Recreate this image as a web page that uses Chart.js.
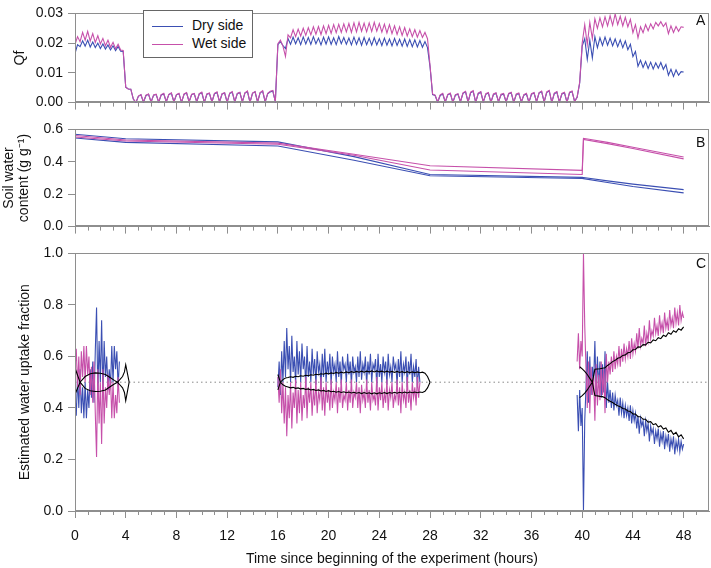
<!DOCTYPE html>
<html>
<head>
<meta charset="utf-8">
<script src="https://cdn.jsdelivr.net/npm/chart.js@4.4.1/dist/chart.umd.min.js"></script>
<style>
  body { margin: 0; background: #fff; font-family: "Liberation Sans", Arial, sans-serif; }
  #wrap { position: relative; width: 711px; height: 568px; overflow: hidden; }
  .box { position: absolute; left: 0; width: 711px; }
  .tag { position: absolute; font-size: 14px; color: #111; line-height: 14px; }
  #legend { position: absolute; left: 143px; top: 10px; width: 108px; height: 46px;
            border: 1px solid #666; background: #fff; font-size: 14px; color: #111; }
  #legend div { position: absolute; left: 8px; height: 16px; line-height: 16px; }
  #legend span { display: inline-block; width: 31px; height: 0; vertical-align: middle; margin-right: 9px; }
</style>
</head>
<body>
<div id="wrap">
  <div class="box" style="top:0;height:116px"><canvas id="chartA"></canvas></div>
  <div class="box" style="top:116px;height:124px"><canvas id="chartB"></canvas></div>
  <div class="box" style="top:240px;height:328px"><canvas id="chartC"></canvas></div>
  <div id="legend">
    <div style="top:6px"><span style="border-top:1.5px solid #3b4fb3"></span>Dry side</div>
    <div style="top:24px"><span style="border-top:1.5px solid #c650aa"></span>Wet side</div>
  </div>
  <div class="tag" style="left:696px;top:13px">A</div>
  <div class="tag" style="left:696px;top:135px">B</div>
  <div class="tag" style="left:696px;top:256px">C</div>
</div>
<script>
var blue = '#3b4fb3';
var magenta = '#c650aa';
var axisGrey = '#8e8e8e';

// ---- Panel A: Qf, sampled every 0.2 h ----
var qfDryStart = [0.0165, 0.0195, 0.0188, 0.0208, 0.0190, 0.0210, 0.0187, 0.0204, 0.0185, 0.0200,
  0.0182, 0.0197, 0.0180, 0.0194, 0.0177, 0.0191, 0.0175, 0.0189, 0.0173, 0.0172,
  0.0052, 0.0046, 0.0045, 0.0012, 0.0000];
var qfWetStart = [0.0195, 0.0222, 0.0205, 0.0236, 0.0210, 0.0240, 0.0207, 0.0232, 0.0202, 0.0225,
  0.0197, 0.0216, 0.0191, 0.0210, 0.0186, 0.0203, 0.0181, 0.0196, 0.0177, 0.0175,
  0.0052, 0.0046, 0.0045, 0.0012, 0.0000];
var qfDryNight1 = [0.0021, 0.0026, 0.0001, 0.0024, 0.0028, 0.0002, 0.0025, 0.0027, 0.0001,
  0.0026, 0.0029, 0.0003, 0.0027, 0.0031, 0.0002, 0.0026, 0.0030, 0.0001, 0.0028, 0.0032, 0.0003,
  0.0027, 0.0030, 0.0002, 0.0029, 0.0033, 0.0001, 0.0028, 0.0031, 0.0002, 0.0030, 0.0034, 0.0003,
  0.0029, 0.0032, 0.0001, 0.0031, 0.0035, 0.0002, 0.0030, 0.0034, 0.0003, 0.0032, 0.0037, 0.0001,
  0.0031, 0.0036, 0.0002, 0.0033, 0.0038, 0.0002, 0.0030, 0.0036, 0.0039, 0.0003];
var qfWetNight1 = [0.0022, 0.0027, 0.0002, 0.0025, 0.0029, 0.0001, 0.0026, 0.0028, 0.0002,
  0.0027, 0.0031, 0.0002, 0.0028, 0.0033, 0.0003, 0.0027, 0.0031, 0.0001, 0.0029, 0.0034, 0.0002,
  0.0028, 0.0031, 0.0003, 0.0030, 0.0035, 0.0001, 0.0029, 0.0032, 0.0002, 0.0031, 0.0036, 0.0002,
  0.0030, 0.0033, 0.0001, 0.0032, 0.0037, 0.0003, 0.0031, 0.0035, 0.0002, 0.0033, 0.0039, 0.0001,
  0.0032, 0.0037, 0.0002, 0.0034, 0.0040, 0.0003, 0.0031, 0.0038, 0.0041, 0.0002];
var qfDryDay = [0.0195, 0.0205, 0.0192, 0.0182,
  0.0215, 0.0196, 0.0220, 0.0198, 0.0218, 0.0195, 0.0221, 0.0197, 0.0219, 0.0196,
  0.0222, 0.0198, 0.0217, 0.0194, 0.0220, 0.0197, 0.0221, 0.0196, 0.0218, 0.0195,
  0.0222, 0.0198, 0.0219, 0.0196, 0.0217, 0.0194, 0.0220, 0.0196, 0.0218, 0.0193,
  0.0219, 0.0195, 0.0216, 0.0193, 0.0218, 0.0194, 0.0215, 0.0192, 0.0217, 0.0193,
  0.0214, 0.0191, 0.0216, 0.0192, 0.0213, 0.0190, 0.0214, 0.0189, 0.0212, 0.0188,
  0.0211, 0.0187, 0.0209, 0.0186, 0.0205, 0.0185];
var qfWetDay = [0.0198, 0.0210, 0.0190, 0.0155,
  0.0228, 0.0218, 0.0245, 0.0222, 0.0247, 0.0224, 0.0250, 0.0226, 0.0252, 0.0228,
  0.0255, 0.0230, 0.0256, 0.0229, 0.0258, 0.0232, 0.0260, 0.0233, 0.0262, 0.0235,
  0.0263, 0.0236, 0.0265, 0.0238, 0.0266, 0.0236, 0.0268, 0.0238, 0.0270, 0.0240,
  0.0267, 0.0238, 0.0268, 0.0239, 0.0270, 0.0240, 0.0266, 0.0237, 0.0264, 0.0234,
  0.0262, 0.0232, 0.0258, 0.0229, 0.0255, 0.0226, 0.0252, 0.0224, 0.0248, 0.0222,
  0.0245, 0.0220, 0.0242, 0.0219, 0.0236, 0.0215];
var qfDryNight2 = [0.0120, 0.0027, 0.0024, 0.0001,
  0.0024, 0.0029, 0.0002, 0.0026, 0.0030, 0.0001, 0.0025, 0.0028, 0.0003, 0.0031, 0.0036, 0.0002,
  0.0033, 0.0038, 0.0001, 0.0030, 0.0035, 0.0002, 0.0028, 0.0032, 0.0001, 0.0027, 0.0031, 0.0003,
  0.0026, 0.0029, 0.0002, 0.0029, 0.0033, 0.0001, 0.0027, 0.0030, 0.0002, 0.0025, 0.0029, 0.0001,
  0.0028, 0.0032, 0.0003, 0.0032, 0.0037, 0.0002, 0.0034, 0.0039, 0.0001, 0.0030, 0.0035, 0.0002,
  0.0029, 0.0033, 0.0001, 0.0033, 0.0037, 0.0004, 0.0018, 0.0065];
var qfWetNight2 = [0.0125, 0.0029, 0.0025, 0.0002,
  0.0026, 0.0031, 0.0002, 0.0028, 0.0032, 0.0001, 0.0027, 0.0030, 0.0003, 0.0033, 0.0038, 0.0002,
  0.0035, 0.0040, 0.0001, 0.0032, 0.0037, 0.0002, 0.0030, 0.0034, 0.0001, 0.0029, 0.0033, 0.0003,
  0.0028, 0.0031, 0.0002, 0.0031, 0.0035, 0.0001, 0.0029, 0.0032, 0.0002, 0.0027, 0.0031, 0.0001,
  0.0030, 0.0034, 0.0003, 0.0034, 0.0039, 0.0002, 0.0036, 0.0041, 0.0001, 0.0032, 0.0037, 0.0002,
  0.0031, 0.0035, 0.0001, 0.0035, 0.0039, 0.0003, 0.0019, 0.0068];
var qfDryLast = [0.0190, 0.0215, 0.0145, 0.0210, 0.0150, 0.0222, 0.0185, 0.0218, 0.0192, 0.0220,
  0.0193, 0.0217, 0.0191, 0.0214, 0.0188, 0.0211, 0.0185, 0.0207, 0.0178, 0.0196,
  0.0155, 0.0172, 0.0122, 0.0142, 0.0118, 0.0138, 0.0115, 0.0136, 0.0113, 0.0134,
  0.0116, 0.0135, 0.0112, 0.0128, 0.0092, 0.0112, 0.0088, 0.0110, 0.0092, 0.0104, 0.0103];
var qfWetLast = [0.0200, 0.0262, 0.0195, 0.0270, 0.0215, 0.0282, 0.0250, 0.0285, 0.0255, 0.0288,
  0.0258, 0.0292, 0.0260, 0.0298, 0.0262, 0.0290, 0.0258, 0.0287, 0.0255, 0.0280,
  0.0235, 0.0262, 0.0218, 0.0255, 0.0235, 0.0262, 0.0242, 0.0265, 0.0248, 0.0270,
  0.0258, 0.0272, 0.0256, 0.0268, 0.0232, 0.0258, 0.0236, 0.0256, 0.0240, 0.0255, 0.0253];

// ---- Panel B: soil water content, two probes per side ----
var swcHours = [0, 4, 16, 22, 28, 40, 40.1, 42, 44, 48];
var swcDry1 = [0.570, 0.542, 0.523, 0.432, 0.322, 0.304, 0.303, 0.282, 0.262, 0.228];
var swcDry2 = [0.547, 0.520, 0.498, 0.410, 0.314, 0.297, 0.296, 0.272, 0.248, 0.208];
var swcWet1 = [0.562, 0.535, 0.515, 0.447, 0.376, 0.347, 0.545, 0.520, 0.490, 0.430];
var swcWet2 = [0.553, 0.528, 0.508, 0.440, 0.349, 0.322, 0.538, 0.512, 0.482, 0.418];

// ---- Panel C: uptake fraction, sampled every 0.1 h ----
var upDry1 = [0.45, 0.37, 0.52, 0.40, 0.55, 0.38, 0.48, 0.36, 0.50, 0.36, 0.47, 0.40, 0.55, 0.44, 0.58, 0.42,
  0.62, 0.79, 0.45, 0.66, 0.50, 0.74, 0.45, 0.66, 0.52, 0.60, 0.47, 0.55, 0.48, 0.64, 0.50, 0.64, 0.55, 0.62, 0.48, 0.58];
var upWet1 = [0.55, 0.63, 0.48, 0.60, 0.45, 0.62, 0.52, 0.64, 0.50, 0.64, 0.53, 0.60, 0.45, 0.56, 0.42, 0.58,
  0.38, 0.21, 0.55, 0.34, 0.50, 0.26, 0.55, 0.34, 0.48, 0.40, 0.53, 0.45, 0.52, 0.36, 0.50, 0.36, 0.45, 0.38, 0.52, 0.42];
var upDry2 = [0.48, 0.58, 0.45, 0.62, 0.50, 0.66, 0.52, 0.71, 0.55, 0.64,
  0.50, 0.68, 0.54, 0.60, 0.49, 0.66, 0.53, 0.62, 0.50, 0.65,
  0.55, 0.60, 0.48, 0.64, 0.52, 0.58, 0.50, 0.63, 0.53, 0.59,
  0.49, 0.62, 0.54, 0.57, 0.48, 0.61, 0.52, 0.63, 0.50, 0.58,
  0.53, 0.61, 0.49, 0.60, 0.54, 0.57, 0.50, 0.62, 0.52, 0.58,
  0.49, 0.60, 0.55, 0.57, 0.50, 0.61, 0.53, 0.58, 0.49, 0.60,
  0.54, 0.56, 0.50, 0.60, 0.52, 0.62, 0.51, 0.57, 0.54, 0.60,
  0.49, 0.58, 0.53, 0.61, 0.50, 0.57, 0.55, 0.59, 0.48, 0.61,
  0.52, 0.57, 0.50, 0.60, 0.54, 0.58, 0.49, 0.61, 0.53, 0.56,
  0.50, 0.60, 0.55, 0.57, 0.49, 0.59, 0.52, 0.62, 0.50, 0.57,
  0.54, 0.60, 0.48, 0.58, 0.53, 0.61, 0.50, 0.56, 0.52, 0.59,
  0.48, 0.56, 0.50];
var upWet2 = [0.52, 0.42, 0.55, 0.38, 0.50, 0.34, 0.48, 0.29, 0.45, 0.36,
  0.50, 0.32, 0.46, 0.40, 0.51, 0.34, 0.47, 0.38, 0.50, 0.35,
  0.45, 0.40, 0.52, 0.36, 0.48, 0.42, 0.50, 0.37, 0.47, 0.41,
  0.51, 0.38, 0.46, 0.43, 0.52, 0.39, 0.48, 0.37, 0.50, 0.42,
  0.47, 0.39, 0.51, 0.40, 0.46, 0.43, 0.50, 0.38, 0.48, 0.42,
  0.51, 0.40, 0.45, 0.43, 0.50, 0.39, 0.47, 0.42, 0.51, 0.40,
  0.46, 0.44, 0.50, 0.40, 0.48, 0.38, 0.49, 0.43, 0.46, 0.40,
  0.51, 0.42, 0.47, 0.39, 0.50, 0.43, 0.45, 0.41, 0.52, 0.39,
  0.48, 0.43, 0.50, 0.40, 0.46, 0.42, 0.51, 0.39, 0.47, 0.44,
  0.50, 0.40, 0.45, 0.43, 0.51, 0.41, 0.48, 0.38, 0.50, 0.43,
  0.46, 0.40, 0.52, 0.42, 0.47, 0.39, 0.50, 0.44, 0.48, 0.41,
  0.52, 0.44, 0.50];
var upDry3 = [0.45, 0.31, 0.47, 0.33,
  0.40, 0.00, 0.35, 0.48, 0.62, 0.42, 0.60, 0.45, 0.56, 0.50,
  0.66, 0.45, 0.60, 0.48, 0.58, 0.44, 0.57, 0.46, 0.62, 0.40,
  0.50, 0.42, 0.47, 0.40, 0.46, 0.39, 0.45, 0.41, 0.43, 0.37,
  0.44, 0.38, 0.42, 0.36, 0.41, 0.37, 0.40, 0.35, 0.41, 0.34,
  0.39, 0.35, 0.38, 0.32, 0.37, 0.30, 0.36, 0.33, 0.35, 0.29,
  0.35, 0.31, 0.34, 0.27, 0.33, 0.30, 0.32, 0.26, 0.31, 0.28,
  0.32, 0.25, 0.30, 0.27, 0.31, 0.24, 0.29, 0.26, 0.30, 0.23,
  0.28, 0.25, 0.29, 0.22, 0.27, 0.24, 0.28, 0.23, 0.27, 0.24, 0.26];
var upWet3 = [0.58, 0.69, 0.55, 0.66,
  0.60, 1.00, 0.72, 0.55, 0.40, 0.58, 0.38, 0.56, 0.45, 0.52,
  0.35, 0.57, 0.41, 0.53, 0.43, 0.58, 0.45, 0.55, 0.38, 0.61,
  0.50, 0.58, 0.53, 0.60, 0.54, 0.62, 0.55, 0.60, 0.57, 0.64,
  0.56, 0.63, 0.58, 0.65, 0.59, 0.63, 0.60, 0.66, 0.59, 0.67,
  0.61, 0.65, 0.62, 0.69, 0.63, 0.71, 0.64, 0.67, 0.65, 0.72,
  0.64, 0.69, 0.66, 0.74, 0.67, 0.70, 0.68, 0.75, 0.69, 0.72,
  0.68, 0.76, 0.70, 0.73, 0.69, 0.77, 0.71, 0.74, 0.70, 0.78,
  0.72, 0.75, 0.71, 0.79, 0.73, 0.77, 0.72, 0.80, 0.74, 0.77, 0.75];

// smoothed fractions (black lines)
var smoothHours1 = [0, 0.4, 0.8, 1.2, 1.6, 2.0, 2.4, 2.8, 3.1, 3.35, 3.5, 3.75, 3.9, 4.0, 4.27];
var smoothDry1 = [0.453, 0.500, 0.522, 0.533, 0.536, 0.535, 0.530, 0.517, 0.507, 0.500, 0.492, 0.478, 0.460, 0.428, 0.500];
var smoothWet1 = [0.555, 0.500, 0.476, 0.467, 0.464, 0.465, 0.470, 0.483, 0.493, 0.500, 0.508, 0.522, 0.540, 0.568, 0.500];
var smoothDry2 = [0.470, 0.500, 0.510, 0.516, 0.518, 0.521, 0.519, 0.523, 0.521, 0.525,
  0.523, 0.527, 0.525, 0.529, 0.527, 0.531, 0.529, 0.533, 0.531, 0.535,
  0.532, 0.536, 0.534, 0.538, 0.535, 0.539, 0.536, 0.540, 0.537, 0.541,
  0.538, 0.542, 0.539, 0.543, 0.539, 0.543, 0.540, 0.544, 0.540, 0.544,
  0.540, 0.543, 0.539, 0.543, 0.539, 0.542, 0.538, 0.542, 0.538, 0.541,
  0.537, 0.541, 0.537, 0.540, 0.537, 0.540, 0.537, 0.539, 0.535, 0.522, 0.500];
var smoothWet2 = [0.530, 0.500, 0.490, 0.484, 0.481, 0.478, 0.480, 0.476, 0.478, 0.474,
  0.476, 0.472, 0.474, 0.470, 0.472, 0.468, 0.470, 0.466, 0.468, 0.464,
  0.467, 0.463, 0.465, 0.461, 0.464, 0.460, 0.463, 0.459, 0.462, 0.458,
  0.461, 0.457, 0.460, 0.456, 0.460, 0.456, 0.459, 0.455, 0.459, 0.455,
  0.459, 0.456, 0.460, 0.456, 0.460, 0.457, 0.461, 0.457, 0.461, 0.458,
  0.462, 0.458, 0.462, 0.459, 0.462, 0.459, 0.462, 0.460, 0.465, 0.478, 0.500];
var smoothDry3 = [0.560, 0.552, 0.542, 0.530, 0.515, 0.500, 0.448, 0.447, 0.445, 0.444, 0.440,
  0.432, 0.426, 0.421, 0.414, 0.409, 0.405, 0.398, 0.396, 0.388, 0.386,
  0.377, 0.376, 0.366, 0.366, 0.356, 0.356, 0.345, 0.347, 0.335, 0.339,
  0.326, 0.331, 0.318, 0.322, 0.306, 0.313, 0.297, 0.305, 0.288, 0.296, 0.280];
var smoothWet3 = [0.440, 0.448, 0.458, 0.470, 0.485, 0.500, 0.550, 0.551, 0.552, 0.554, 0.556,
  0.565, 0.572, 0.580, 0.585, 0.593, 0.596, 0.604, 0.606, 0.614, 0.616,
  0.626, 0.627, 0.637, 0.636, 0.646, 0.645, 0.655, 0.653, 0.664, 0.661,
  0.673, 0.669, 0.682, 0.677, 0.692, 0.686, 0.700, 0.694, 0.708, 0.702, 0.715];

var xTickHours = [0, 4, 8, 12, 16, 20, 24, 28, 32, 36, 40, 44, 48];

// helpers
function run(start, step, values) {
  return values.map(function (v, i) { return { x: +(start + i * step).toFixed(3), y: v }; });
}
function pairs(hours, values) {
  return hours.map(function (h, i) { return { x: h, y: values[i] }; });
}
function gap(h) { return [{ x: h, y: null }]; }

function line(label, data, color, order, extra) {
  var ds = { label: label, data: data, borderColor: color, backgroundColor: color,
    borderWidth: 1.1, pointRadius: 0, tension: 0, order: order, fill: false };
  for (var k in extra) ds[k] = extra[k];
  return ds;
}

var tickFont = { family: '"Liberation Sans", Arial, sans-serif', size: 14 };

var framePlugin = {
  id: 'frame',
  afterDraw: function (chart) {
    var a = chart.chartArea, ctx = chart.ctx, xs = chart.scales.x;
    ctx.save();
    ctx.strokeStyle = axisGrey;
    ctx.lineWidth = 1;
    ctx.strokeRect(Math.round(a.left) + 0.5, Math.round(a.top) + 0.5,
      Math.round(a.right - a.left) - 1, Math.round(a.bottom - a.top) - 1);
    // minor hour ticks
    for (var h = 1; h < 50; h++) {
      if (h % 4 === 0) continue;
      var px = Math.round(xs.getPixelForValue(h)) + 0.5;
      ctx.beginPath();
      ctx.moveTo(px, a.bottom);
      ctx.lineTo(px, a.bottom + 4);
      ctx.stroke();
    }
    ctx.restore();
  }
};

function xAxis(showLabels, height) {
  return {
    type: 'linear', min: 0, max: 50,
    afterBuildTicks: function (s) { s.ticks = xTickHours.map(function (v) { return { value: v }; }); },
    afterFit: function (s) { s.height = height; },
    grid: { drawOnChartArea: false, drawTicks: true, tickLength: 7, color: axisGrey },
    border: { display: true, color: axisGrey },
    ticks: { display: showLabels, font: tickFont, color: '#111', padding: 10, maxRotation: 0 },
    title: { display: showLabels, text: 'Time since beginning of the experiment (hours)',
      font: tickFont, color: '#111', padding: { top: 4, bottom: 0 } }
  };
}

function yAxis(max, step, digits, title, titlePad, titleFont) {
  return {
    min: 0, max: max,
    afterFit: function (s) { s.width = 75; },
    grid: { drawOnChartArea: false, drawTicks: true, tickLength: 7, color: axisGrey },
    border: { display: true, color: axisGrey },
    ticks: { stepSize: step, font: tickFont, color: '#111', padding: 5,
      callback: function (v) { return v.toFixed(digits); } },
    title: { display: true, text: title, font: titleFont || tickFont, color: '#111',
      padding: { top: titlePad, bottom: 0 } }
  };
}

function baseOptions(padTop, xOpts, yOpts) {
  return {
    responsive: true, maintainAspectRatio: false, animation: false, events: [],
    layout: { padding: { top: padTop, right: 2, left: 0, bottom: 0 } },
    plugins: { legend: { display: false }, tooltip: { enabled: false } },
    scales: { x: xOpts, y: yOpts }
  };
}

// Panel A
new Chart(document.getElementById('chartA'), {
  type: 'line',
  data: { datasets: [
    line('Wet side', [].concat(run(0, 0.2, qfWetStart), run(5, 0.2, qfWetNight1), run(16, 0.2, qfWetDay),
      run(28, 0.2, qfWetNight2), run(40, 0.2, qfWetLast)), magenta, 1),
    line('Dry side', [].concat(run(0, 0.2, qfDryStart), run(5, 0.2, qfDryNight1), run(16, 0.2, qfDryDay),
      run(28, 0.2, qfDryNight2), run(40, 0.2, qfDryLast)), blue, 2)
  ] },
  options: baseOptions(6, xAxis(false, 9), yAxis(0.03, 0.01, 2, 'Qf', 12)),
  plugins: [framePlugin]
});

// Panel B
new Chart(document.getElementById('chartB'), {
  type: 'line',
  data: { datasets: [
    line('Wet 1', pairs(swcHours, swcWet1), magenta, 1),
    line('Wet 2', pairs(swcHours, swcWet2), magenta, 1),
    line('Dry 1', pairs(swcHours, swcDry1), blue, 2),
    line('Dry 2', pairs(swcHours, swcDry2), blue, 2)
  ] },
  options: baseOptions(13, xAxis(false, 10), yAxis(0.6, 0.2, 1, ['Soil water', 'content (g g\u207B\u00B9)'], 1.5,
    { family: '"Liberation Sans", Arial, sans-serif', size: 14, lineHeight: 1.1 })),
  plugins: [framePlugin]
});

// Panel C
new Chart(document.getElementById('chartC'), {
  type: 'line',
  data: { datasets: [
    line('Dry smooth', [].concat(pairs(smoothHours1, smoothDry1), gap(10), run(16, 0.2, smoothDry2), gap(34),
      run(39.8, 0.2, smoothDry3)), '#000', 0),
    line('Wet smooth', [].concat(pairs(smoothHours1, smoothWet1), gap(10), run(16, 0.2, smoothWet2), gap(34),
      run(39.8, 0.2, smoothWet3)), '#000', 0),
    line('Wet side', [].concat(run(0, 0.1, upWet1), gap(10), run(16, 0.1, upWet2), gap(34), run(39.6, 0.1, upWet3)), magenta, 1),
    line('Dry side', [].concat(run(0, 0.1, upDry1), gap(10), run(16, 0.1, upDry2), gap(34), run(39.6, 0.1, upDry3)), blue, 2),
    line('Half', [{ x: 0, y: 0.5 }, { x: 50, y: 0.5 }], '#888', 3, { borderDash: [1.5, 3], borderWidth: 1 })
  ] },
  options: baseOptions(11, xAxis(true, 57), yAxis(1.0, 0.2, 1, 'Estimated water uptake fraction', 17)),
  plugins: [framePlugin]
});
</script>
</body>
</html>
